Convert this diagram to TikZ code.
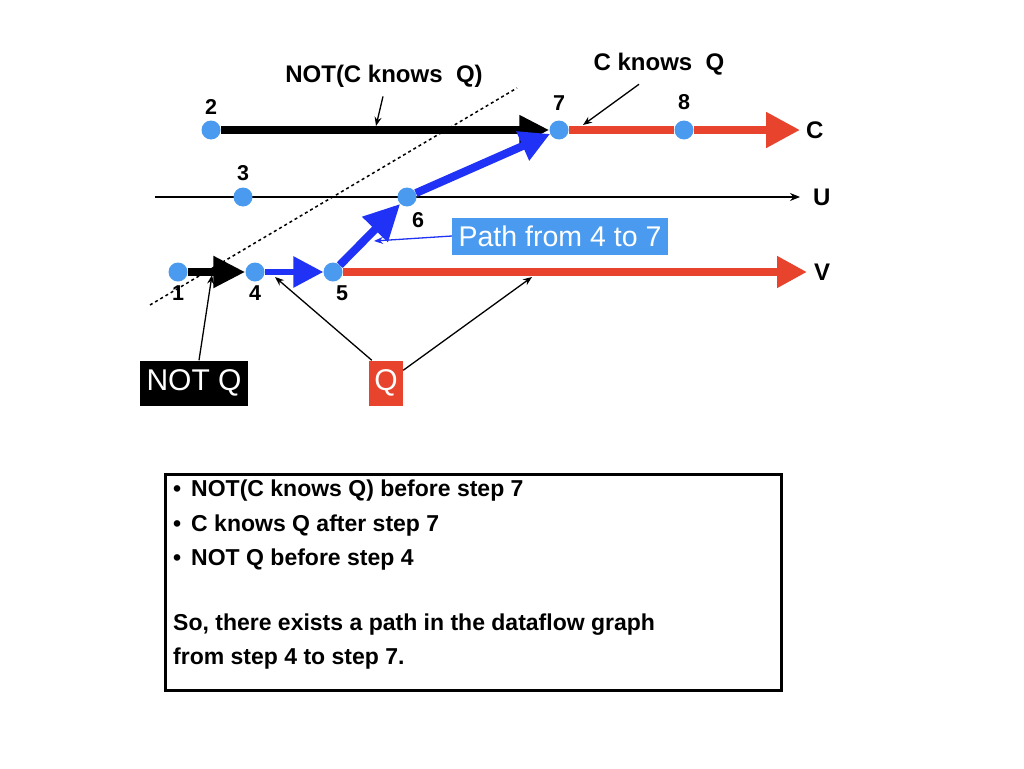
\documentclass[tikz,border=0pt]{standalone}
\usepackage{fontspec}
\setmainfont{Liberation Sans}
\usetikzlibrary{positioning,arrows.meta,calc}
\definecolor{dotblue}{HTML}{4A9BEF}
\definecolor{flowred}{HTML}{E8432C}
\definecolor{pathblue}{HTML}{1F32F5}
\tikzstyle{event}=[circle, fill=dotblue, minimum size=19pt, inner sep=0pt]
\tikzstyle{num}=[font=\fontsize{21.5}{24}\selectfont\bfseries, inner sep=1pt]
\tikzstyle{note}=[font=\fontsize{24}{28}\selectfont\bfseries, inner sep=0pt]
\tikzstyle{flow}=[line width=8pt]
\tikzstyle{pointer}=[-{Stealth[length=9pt,width=7pt]}, line width=1.3pt]
\tikzstyle{tag}=[text=white, inner sep=0pt, font=\fontsize{30}{34}\selectfont]

\begin{document}
\begin{tikzpicture}[x=1pt,y=-1pt]
    \useasboundingbox (0,0) rectangle (1024,768);

    % timelines
    \coordinate (ustart) at (155,197);
    \coordinate (uend) at (800,197);
    \coordinate (cend) at (800,130);
    \coordinate (vend) at (807,272);
    \draw[line width=1.3pt, -{Stealth[length=10pt,width=8pt]}] (ustart) -- (uend);
    \draw[line width=1.5pt, dash pattern=on 3pt off 3pt] (150,305) -- (517,88);

    % steps
    \node[event, label={[num, label distance=3pt]below:1}] (n1) at (178,272) {};
    \node[event, label={[num, label distance=5pt]above:2}] (n2) at (211,130) {};
    \node[event, label={[num, label distance=5pt]above:3}] (n3) at (243,197) {};
    \node[event, label={[num, label distance=3pt]below:4}] (n4) at (255,272) {};
    \node[event, label={[num, label distance=3pt, xshift=9pt]below:5}] (n5) at (333,272) {};
    \node[event, label={[num, label distance=5pt, xshift=11pt]below:6}] (n6) at (407,197) {};
    \node[event, label={[num, label distance=9pt]above:7}] (n7) at (559,130) {};
    \node[event, label={[num, label distance=9pt]above:8}] (n8) at (684,130) {};

    % line names
    \node[note, right=6pt of cend] (cname) {C};
    \node[note, right=13pt of uend] (uname) {U};
    \node[note, right=7pt of vend] (vname) {V};

    % flows
    \draw[flow, -{Triangle[length=30pt,width=28pt]}] (n2) -- (n7);
    \draw[flow, -{Triangle[length=32pt,width=30pt]}] (n1) -- (n4);
    \draw[flow, flowred] (n7) -- (n8);
    \draw[flow, flowred, -{Triangle[length=34pt,width=34pt]}] (n8) -- (cend);
    \draw[flow, flowred, -{Triangle[length=30pt,width=30pt]}] (n5) -- (vend);
    \draw[line width=6pt, pathblue, -{Triangle[length=30pt,width=30pt]}] (n4) -- (n5);
    \draw[flow, pathblue, -{Triangle[length=36pt,width=34pt]}] (n5) -- (n6);
    \draw[flow, pathblue, -{Triangle[length=30pt,width=30pt]}] (n6) -- (n7);

    % annotations
    \node[note] (notck) at (384,76) {NOT(C knows~~Q)};
    \node[note] (ck) at (659,64) {C knows~~Q};
    \node[tag, fill=dotblue, minimum width=216pt, minimum height=37pt,
        font=\fontsize{28.5}{32}\selectfont] (pathbox) at (560,236) {Path from 4 to 7};
    \node[tag, fill=black, minimum width=108pt, minimum height=45pt] (notq) at (194,383) {NOT Q};
    \node[tag, fill=flowred, minimum width=34pt, minimum height=45pt] (qbox) at (386,383) {Q};

    \coordinate (t1) at (376,126);
    \coordinate (t2) at (583,125);
    \coordinate (t3) at (374,241);
    \coordinate (t4) at (212,275);
    \coordinate (t5) at (275,277);
    \coordinate (t6) at (532,277);
    \draw[pointer] ($(notck.south)+(-1,9)$) -- (t1);
    \draw[pointer] ($(ck.south)+(-20,9)$) -- (t2);
    \draw[pointer, pathblue] (pathbox.west) -- (t3);
    \draw[pointer] ($(notq.north)+(5,0)$) -- (t4);
    \draw[pointer] ($(qbox.north west)+(3,0)$) -- (t5);
    \draw[pointer] ($(qbox.north east)+(0,10)$) -- (t6);

    % summary
    \draw[line width=3pt] (165,474) rectangle (781,690);
    \node[anchor=north west, align=left, inner sep=0pt,
        font=\fontsize{23}{34.5}\selectfont\bfseries] (summary) at (173,480) {%
        \textbullet\hspace{10pt}NOT(C knows Q) before step 7\\
        \textbullet\hspace{10pt}C knows Q after step 7\\
        \textbullet\hspace{10pt}NOT Q before step 4\\[30pt]
        So, there exists a path in the dataflow graph\\
        from step 4 to step 7.};

\end{tikzpicture}
\end{document}
